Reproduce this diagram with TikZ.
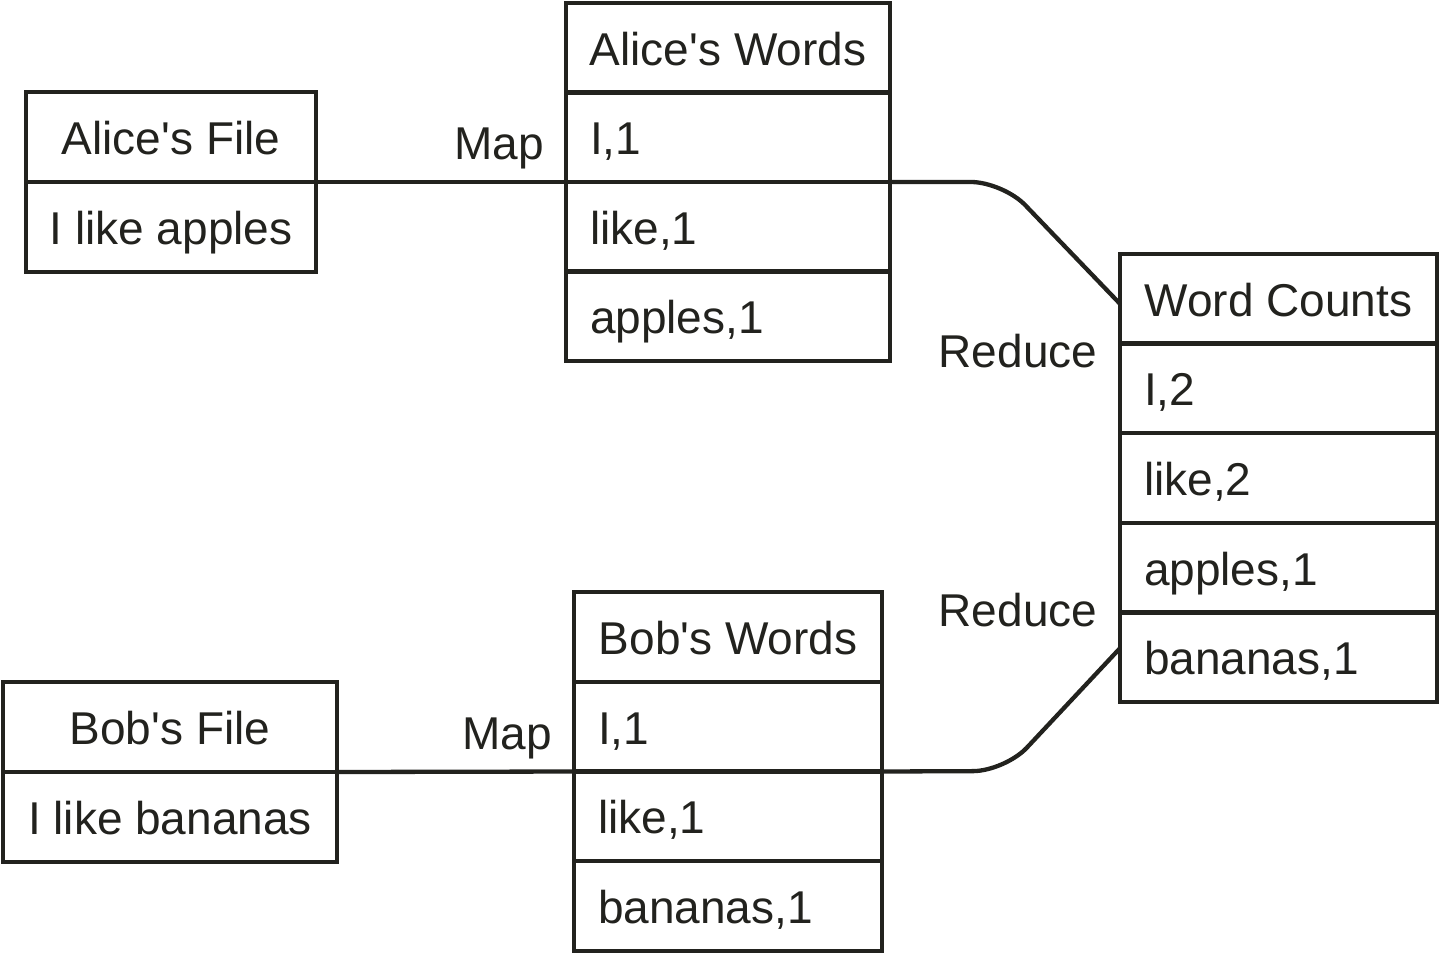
\documentclass[tikz,border=0pt]{standalone}
\usepackage{fontspec}
\setmainfont{Liberation Sans}
\definecolor{ink}{RGB}{34,34,30}
\newcommand{\ap}{\textquotesingle}
\begin{document}
\begin{tikzpicture}[x=1pt,y=-1pt,
  every node/.style={font=\fontsize{46}{50}\selectfont, text=ink},
  cellbase/.style={draw=ink, line width=4.3pt, inner sep=0pt, outer sep=0pt,
    text height=35pt, text depth=0pt},
  titlecell/.style 2 args={cellbase, minimum width=#1, minimum height=#2, anchor=north},
  leftcell/.style 2 args={cellbase, minimum width=#1, minimum height=#2, anchor=north,
    text width=#1-48pt, inner xsep=24pt, align=left},
  conn/.style={draw=ink, line width=4.3pt},
  lbl/.style={inner sep=0pt, text height=35pt, text depth=0pt}]
\useasboundingbox (0,0) rectangle (1440,954);

% Alice's File
\node[titlecell={290pt}{90pt}, anchor=north west] (af) at (26,92) {Alice\ap s File};
\node[titlecell={290pt}{90pt}] (af1) at (af.south) {I like apples};

% Alice's Words
\node[titlecell={324pt}{89.5pt}, anchor=north west] (aw) at (566,3) {Alice\ap s Words};
\node[leftcell={324pt}{89.5pt}] (aw1) at (aw.south) {I,1};
\node[leftcell={324pt}{89.5pt}] (aw2) at (aw1.south) {like,1};
\node[leftcell={324pt}{89.5pt}] (aw3) at (aw2.south) {apples,1};

% Word Counts
\node[titlecell={317pt}{89.6pt}, anchor=north west] (wc) at (1120,254) {Word Counts};
\node[leftcell={317pt}{89.6pt}] (wc1) at (wc.south) {I,2};
\node[leftcell={317pt}{89.6pt}] (wc2) at (wc1.south) {like,2};
\node[leftcell={317pt}{89.6pt}] (wc3) at (wc2.south) {apples,1};
\node[leftcell={317pt}{89.6pt}] (wc4) at (wc3.south) {bananas,1};

% Bob's File
\node[titlecell={334pt}{90pt}, anchor=north west] (bf) at (3,682) {Bob\ap s File};
\node[titlecell={334pt}{90pt}] (bf1) at (bf.south) {I like bananas};

% Bob's Words
\node[titlecell={308pt}{89.75pt}, anchor=north west] (bw) at (574,592) {Bob\ap s Words};
\node[leftcell={308pt}{89.75pt}] (bw1) at (bw.south) {I,1};
\node[leftcell={308pt}{89.75pt}] (bw2) at (bw1.south) {like,1};
\node[leftcell={308pt}{89.75pt}] (bw3) at (bw2.south) {bananas,1};

% Connectors
\coordinate (c1) at (1003,182);
\coordinate (c2) at (1005,771);
\draw[conn] (af.south east) -- (aw1.south west);
\draw[conn] (bf.south east) -- (bw1.south west);
\draw[conn, rounded corners=32pt] (aw1.south east) -- (c1) -- ([yshift=-5pt]wc.west);
\draw[conn, rounded corners=32pt] (bw1.south east) -- (c2) -- ([yshift=9pt]wc4.west);

% Labels
\node[lbl] (m1) at (499,142) {Map};
\node[lbl] (m2) at (507,732) {Map};
\node[lbl] (r1) at (1018,350) {Reduce};
\node[lbl] (r2) at (1018,609) {Reduce};
\end{tikzpicture}
\end{document}
